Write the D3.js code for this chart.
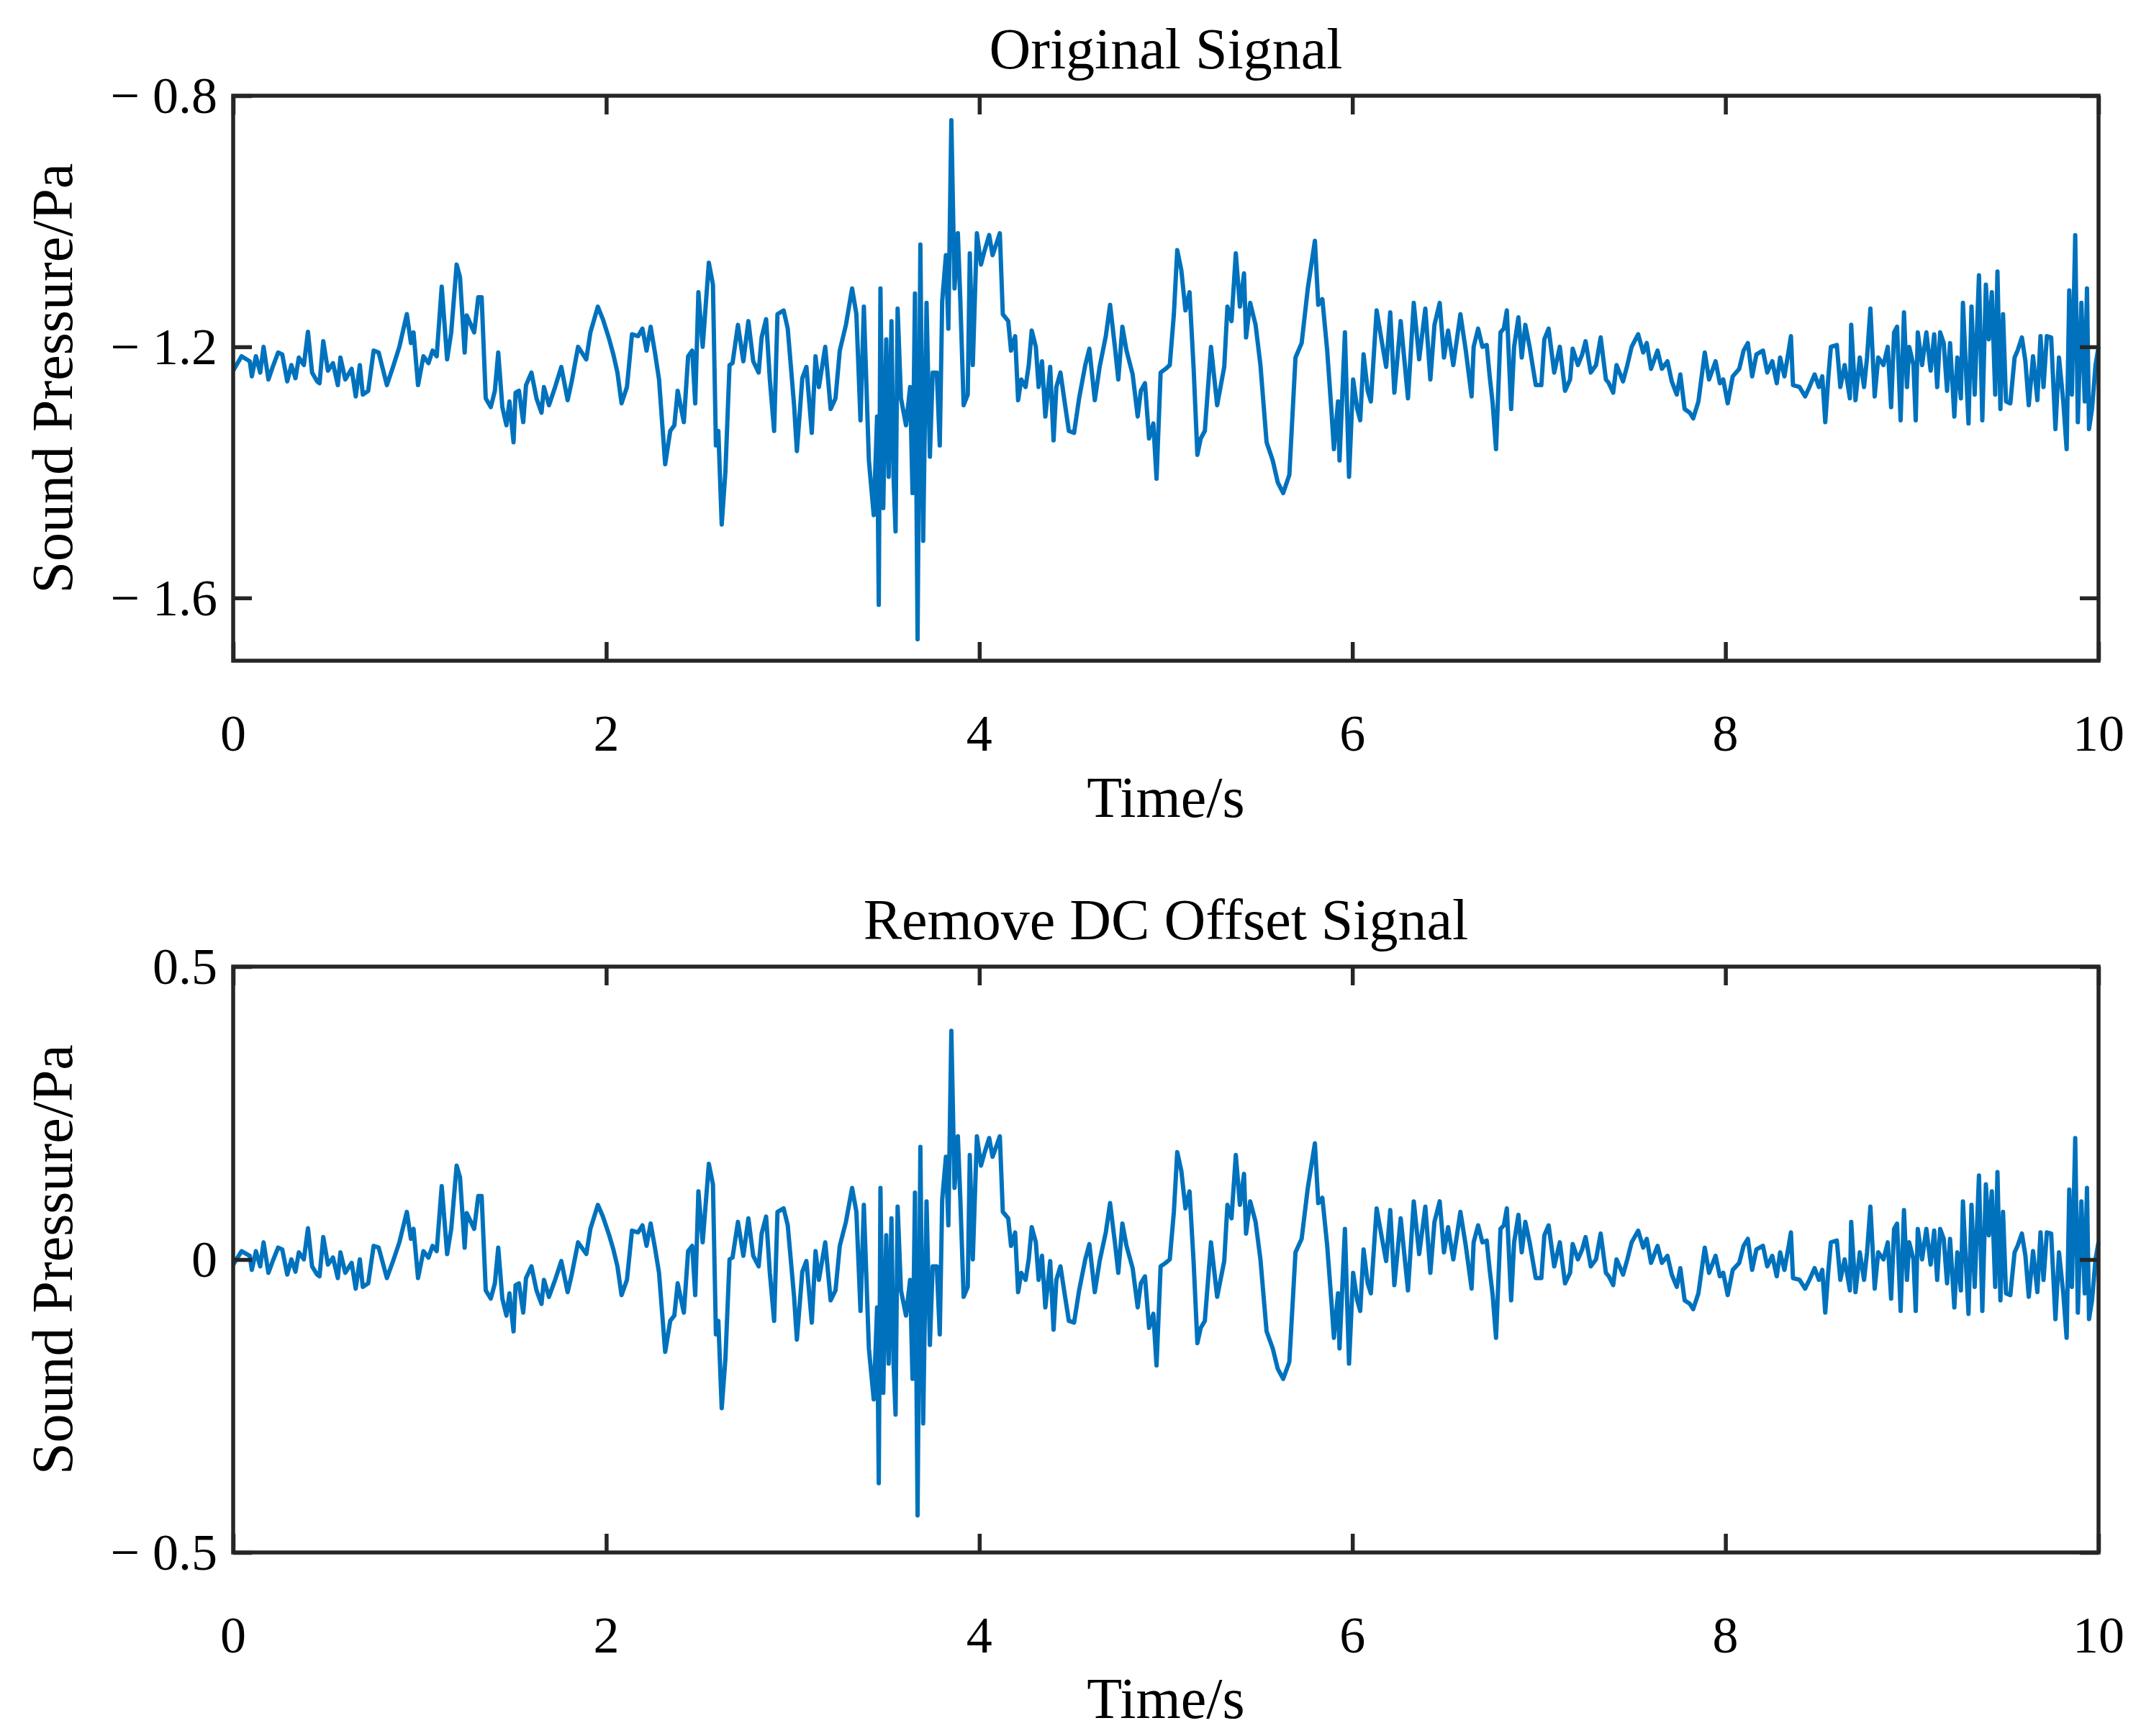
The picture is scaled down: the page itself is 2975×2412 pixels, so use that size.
<!DOCTYPE html>
<html><head><meta charset="utf-8">
<script src="https://cdn.jsdelivr.net/npm/d3@7"></script>
<style>body{margin:0;background:#fff}</style>
</head><body>
<script>
const times = [0.00,0.045,0.089,0.10,0.122,0.145,0.163,0.189,0.212,0.241,0.263,0.290,0.312,0.334,0.352,0.379,0.401,0.423,0.450,0.463,0.483,0.508,0.535,0.561,0.575,0.601,0.635,0.657,0.679,0.695,0.724,0.753,0.780,0.797,0.824,0.857,0.891,0.931,0.953,0.967,0.991,1.020,1.047,1.069,1.091,1.118,1.147,1.169,1.198,1.216,1.241,1.252,1.292,1.314,1.332,1.354,1.381,1.403,1.421,1.443,1.465,1.481,1.503,1.514,1.532,1.555,1.570,1.599,1.626,1.653,1.666,1.693,1.726,1.759,1.793,1.815,1.849,1.893,1.915,1.955,1.982,2.016,2.038,2.060,2.082,2.111,2.138,2.171,2.194,2.216,2.238,2.261,2.283,2.316,2.343,2.365,2.383,2.416,2.439,2.461,2.477,2.494,2.517,2.550,2.572,2.588,2.601,2.619,2.639,2.661,2.677,2.706,2.735,2.762,2.788,2.817,2.833,2.857,2.877,2.900,2.918,2.951,2.973,3.007,3.022,3.051,3.073,3.102,3.122,3.140,3.174,3.203,3.229,3.252,3.285,3.318,3.341,3.363,3.381,3.408,3.434,3.452,
3.461,3.470,3.485,3.501,3.514,3.529,3.540,3.551,3.562,3.580,3.607,3.629,3.642,3.655,3.669,3.684,3.699,3.717,3.735,3.750,3.772,3.788,3.801,3.821,3.834,3.850,3.867,3.885,3.898,3.916,3.938,3.949,3.965,3.987,4.009,4.027,4.053,4.071,4.097,4.110,4.126,4.155,4.170,4.192,4.208,4.225,4.248,4.265,4.281,4.303,4.318,4.336,4.354,4.380,4.398,4.413,4.435,4.457,4.480,4.508,4.535,4.568,4.590,4.619,4.645,4.678,4.701,4.729,4.745,4.767,4.789,4.822,4.849,4.866,4.888,4.910,4.933,4.950,4.972,4.999,5.021,5.043,5.061,5.083,5.105,5.127,5.149,5.169,5.187,5.209,5.242,5.275,5.313,5.330,5.352,5.375,5.397,5.419,5.430,5.452,5.481,5.507,5.540,5.573,5.600,5.629,5.662,5.695,5.728,5.761,5.799,5.817,5.839,5.865,5.887,5.901,5.923,5.931,5.960,5.982,6.004,6.026,6.042,6.060,6.082,6.099,6.130,6.159,6.181,6.203,6.225,6.259,6.298,6.329,6.358,6.391,6.418,6.440,6.468,6.491,6.513,6.541,6.579,6.608,6.639,
6.650,6.674,6.697,6.720,6.736,6.752,6.770,6.794,6.812,6.828,6.851,6.867,6.890,6.908,6.927,6.950,6.983,7.013,7.029,7.052,7.082,7.112,7.140,7.167,7.181,7.209,7.232,7.250,7.278,7.306,7.331,7.359,7.375,7.398,7.416,7.451,7.474,7.497,7.532,7.559,7.578,7.601,7.636,7.659,7.689,7.712,7.739,7.758,7.781,7.809,7.827,7.855,7.889,7.912,7.947,7.970,7.988,8.012,8.039,8.074,8.097,8.120,8.143,8.166,8.201,8.224,8.251,8.275,8.293,8.316,8.339,8.351,8.362,8.397,8.427,8.450,8.478,8.501,8.519,8.535,8.551,8.565,8.597,8.616,8.639,8.667,8.674,8.697,8.720,8.743,8.759,8.777,8.800,8.819,8.847,8.870,8.888,8.904,8.920,8.939,8.957,8.973,8.985,9.008,9.020,9.031,9.054,9.077,9.100,9.119,9.135,9.151,9.170,9.188,9.204,9.227,9.243,9.262,9.273,9.290,9.303,9.319,9.336,9.359,9.377,9.396,9.412,9.428,9.446,9.458,9.474,9.488,9.504,9.527,9.550,9.566,9.589,9.608,9.626,9.649,9.672,9.689,9.705,9.723,9.746,9.769,9.788,9.811,9.829,9.843,9.857,9.875,9.889,9.908,9.926,9.938,9.949,9.965,9.984,10.0];
const pressure = [-1.238,-1.215,-1.223,-1.247,-1.215,-1.241,-1.200,-1.252,-1.232,-1.209,-1.212,-1.255,-1.229,-1.250,-1.217,-1.229,-1.176,-1.241,-1.255,-1.258,-1.191,-1.238,-1.226,-1.261,-1.217,-1.252,-1.235,-1.279,-1.229,-1.276,-1.270,-1.206,-1.209,-1.229,-1.261,-1.232,-1.200,-1.148,-1.194,-1.177,-1.261,-1.215,-1.226,-1.206,-1.215,-1.104,-1.220,-1.177,-1.069,-1.089,-1.209,-1.150,-1.177,-1.121,-1.121,-1.282,-1.296,-1.270,-1.209,-1.296,-1.325,-1.287,-1.352,-1.273,-1.270,-1.320,-1.261,-1.241,-1.282,-1.305,-1.264,-1.293,-1.264,-1.232,-1.285,-1.255,-1.200,-1.220,-1.177,-1.136,-1.156,-1.188,-1.212,-1.241,-1.290,-1.264,-1.180,-1.183,-1.171,-1.206,-1.168,-1.209,-1.252,-1.387,-1.334,-1.325,-1.270,-1.320,-1.215,-1.206,-1.290,-1.113,-1.200,-1.066,-1.101,-1.357,-1.334,-1.483,-1.398,-1.229,-1.226,-1.165,-1.223,-1.159,-1.223,-1.241,-1.185,-1.156,-1.252,-1.334,-1.148,-1.142,-1.171,-1.293,-1.366,-1.250,-1.232,-1.337,-1.215,-1.264,-1.200,-1.299,-1.282,-1.206,-1.165,-1.107,-1.148,-1.317,-1.136,-1.381,-1.468,-1.311,
-1.611,-1.107,-1.457,-1.188,-1.407,-1.159,-1.404,-1.494,-1.139,-1.282,-1.325,-1.264,-1.433,-1.115,-1.666,-1.037,-1.509,-1.130,-1.375,-1.241,-1.241,-1.357,-1.127,-1.054,-1.171,-0.839,-1.107,-1.019,-1.124,-1.293,-1.276,-1.051,-1.229,-1.019,-1.069,-1.048,-1.022,-1.054,-1.031,-1.019,-1.148,-1.159,-1.206,-1.183,-1.285,-1.252,-1.264,-1.229,-1.174,-1.200,-1.264,-1.223,-1.311,-1.232,-1.349,-1.264,-1.241,-1.287,-1.334,-1.337,-1.282,-1.229,-1.203,-1.285,-1.232,-1.183,-1.133,-1.206,-1.252,-1.168,-1.206,-1.244,-1.311,-1.270,-1.258,-1.346,-1.322,-1.410,-1.241,-1.235,-1.229,-1.148,-1.046,-1.078,-1.142,-1.113,-1.235,-1.372,-1.346,-1.334,-1.200,-1.293,-1.232,-1.136,-1.159,-1.051,-1.136,-1.083,-1.185,-1.130,-1.165,-1.229,-1.352,-1.381,-1.416,-1.433,-1.404,-1.217,-1.194,-1.107,-1.031,-1.133,-1.124,-1.206,-1.299,-1.363,-1.287,-1.381,-1.177,-1.407,-1.252,-1.299,-1.317,-1.212,-1.270,-1.287,-1.142,-1.194,-1.232,-1.145,-1.273,-1.159,-1.282,-1.130,-1.220,-1.139,-1.252,-1.165,-1.130,-1.217,-1.174,-1.229,-1.148,-1.206,-1.279,
-1.200,-1.171,-1.200,-1.197,-1.247,-1.290,-1.363,-1.177,-1.171,-1.142,-1.299,-1.200,-1.153,-1.217,-1.165,-1.200,-1.261,-1.261,-1.188,-1.171,-1.241,-1.200,-1.270,-1.252,-1.203,-1.229,-1.212,-1.191,-1.241,-1.229,-1.185,-1.252,-1.258,-1.273,-1.229,-1.255,-1.229,-1.200,-1.180,-1.209,-1.194,-1.235,-1.206,-1.235,-1.223,-1.255,-1.276,-1.244,-1.299,-1.305,-1.314,-1.287,-1.209,-1.252,-1.223,-1.258,-1.252,-1.290,-1.247,-1.235,-1.206,-1.194,-1.247,-1.212,-1.206,-1.241,-1.223,-1.258,-1.217,-1.247,-1.206,-1.183,-1.261,-1.264,-1.279,-1.264,-1.244,-1.264,-1.247,-1.320,-1.250,-1.200,-1.197,-1.264,-1.229,-1.282,-1.165,-1.285,-1.217,-1.264,-1.217,-1.139,-1.279,-1.217,-1.229,-1.200,-1.296,-1.177,-1.168,-1.317,-1.145,-1.264,-1.200,-1.229,-1.317,-1.177,-1.229,-1.177,-1.238,-1.180,-1.264,-1.177,-1.194,-1.270,-1.194,-1.311,-1.217,-1.282,-1.130,-1.241,-1.322,-1.136,-1.276,-1.086,-1.317,-1.101,-1.188,-1.113,-1.276,-1.080,-1.299,-1.148,-1.287,-1.290,-1.217,-1.206,-1.185,-1.223,-1.293,-1.215,-1.285,-1.183,-1.264,-1.183,-1.185,-1.331,-1.217,-1.287,-1.363,-1.110,-1.276,-1.022,-1.320,-1.130,-1.287,-1.107,-1.331,-1.299,-1.229,-1.200];
const xTicks = [0,2,4,6,8,10];
const yTicksTop = [-0.8,-1.2,-1.6];
const yTicksBottom = [0.5,0,-0.5];
const titles = ["Original Signal","Remove DC Offset Signal"];

const dc = d3.mean(pressure);
const seriesTop = times.map((t,i)=>[t,pressure[i]]);
const seriesBottom = times.map((t,i)=>[t,pressure[i]-dc]);

const W=2975,H=2412, L=324, R=2916, font="Liberation Serif";
const svg=d3.select("body").append("svg").attr("width",W).attr("height",H).style("background","#fff");
const fmt = v => v<0 ? "\u2212" + " " + (v===-0.5?"0.5":String(Math.abs(v))) : String(v);

function panel(top,bottom,domain,yt,data,title,xlabY,tickLabY){
  const x=d3.scaleLinear().domain([0,10]).range([L,R]);
  const y=d3.scaleLinear().domain(domain).range([bottom,top]);
  const g=svg.append("g");
  g.append("path").datum(data).attr("fill","none").attr("stroke","#0072BD")
   .attr("stroke-width",6).attr("stroke-linejoin","round")
   .attr("d",d3.line().x(d=>x(d[0])).y(d=>y(d[1])));
  const tl=26;
  const ax=(a)=>a.attr("stroke","#262626").attr("stroke-width",5.5);
  ax(g.append("g").attr("transform",`translate(0,${bottom})`).call(d3.axisBottom(x).tickValues(xTicks).tickSizeInner(-tl).tickSizeOuter(0).tickFormat(""))).select(".domain").remove();
  ax(g.append("g").attr("transform",`translate(0,${top})`).call(d3.axisTop(x).tickValues(xTicks).tickSizeInner(-tl).tickSizeOuter(0).tickFormat(""))).select(".domain").remove();
  ax(g.append("g").attr("transform",`translate(${L},0)`).call(d3.axisLeft(y).tickValues(yt).tickSizeInner(-tl).tickSizeOuter(0).tickFormat(""))).select(".domain").remove();
  ax(g.append("g").attr("transform",`translate(${R},0)`).call(d3.axisRight(y).tickValues(yt).tickSizeInner(-tl).tickSizeOuter(0).tickFormat(""))).select(".domain").remove();
  g.selectAll(".tick line").attr("stroke","#262626").attr("stroke-width",5.5);
  g.append("rect").attr("x",L).attr("y",top).attr("width",R-L).attr("height",bottom-top)
   .attr("fill","none").attr("stroke","#262626").attr("stroke-width",5.5);
  g.selectAll(".xl").data(xTicks).join("text").attr("x",d=>x(d)).attr("y",tickLabY)
   .attr("text-anchor","middle").attr("font-family",font).attr("font-size",72).attr("fill","#000").text(d=>d);
  g.selectAll(".yl").data(yt).join("text").attr("x",L-22).attr("y",d=>y(d)+24)
   .attr("text-anchor","end").attr("font-family",font).attr("font-size",72).attr("fill","#000").text(fmt);
  g.append("text").attr("x",(L+R)/2).attr("y",xlabY).attr("text-anchor","middle")
   .attr("font-family",font).attr("font-size",80).text("Time/s");
  g.append("text").attr("x",(L+R)/2).attr("y",top-38).attr("text-anchor","middle")
   .attr("font-family",font).attr("font-size",80).text(title);
  g.append("text").attr("transform",`translate(100,${(top+bottom)/2}) rotate(-90)`).attr("text-anchor","middle")
   .attr("font-family",font).attr("font-size",80).text("Sound Pressure/Pa");
}
panel(133,918,[-1.7,-0.8],yTicksTop,seriesTop,titles[0],1135,1043);
panel(1343,2157,[-0.5,0.5],yTicksBottom,seriesBottom,titles[1],2387,2296);
</script>
</body></html>
